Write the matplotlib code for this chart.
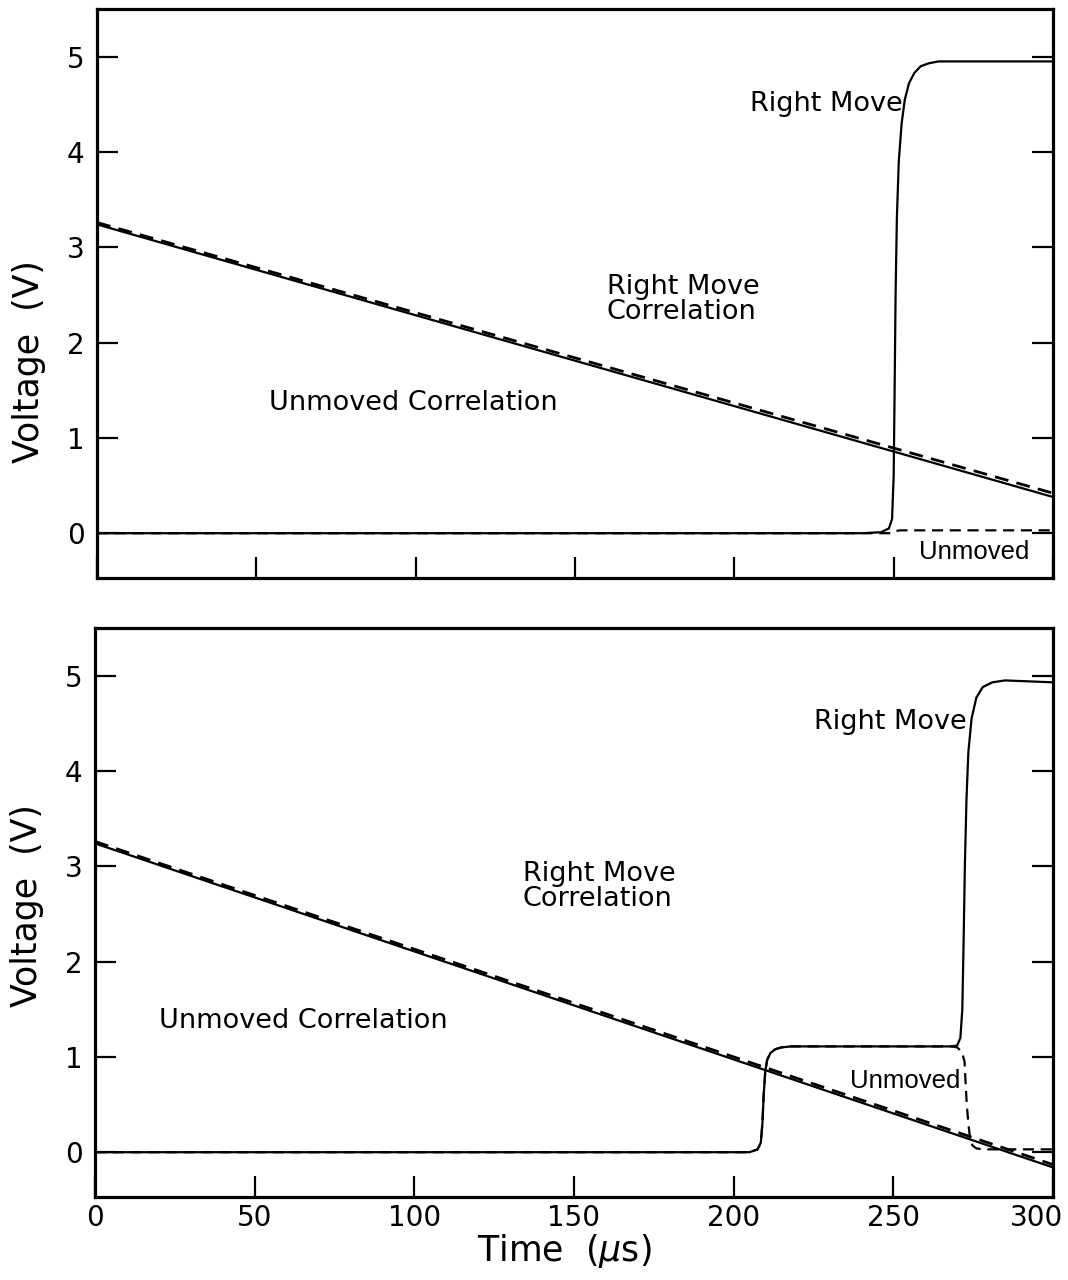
import matplotlib
matplotlib.use("Agg")
import matplotlib.pyplot as plt
from matplotlib.transforms import ScaledTranslation

# ---------------- data ----------------
# x ticks / y ticks
x_ticks = [0, 50, 100, 150, 200, 250, 300]
y_ticks = [0, 1, 2, 3, 4, 5]

# Top panel
top_corr_t = [0, 300]
top_corr_move_v = [3.24, 0.38]      # Right Move Correlation (solid)
top_corr_unmoved_v = [3.26, 0.42]   # Unmoved Correlation (dashed)

top_move_t = [0, 240, 246, 248.5, 249.5, 250.0, 250.3, 250.6, 251.0, 251.6,
              252.5, 253.5, 254.8, 256.5, 258.5, 261, 264, 268, 300]
top_move_v = [0, 0, 0.01, 0.05, 0.15, 0.6, 1.5, 2.5, 3.3, 3.9,
              4.3, 4.55, 4.72, 4.83, 4.9, 4.93, 4.95, 4.95, 4.95]

top_unmoved_t = [0, 249, 250, 252, 300]
top_unmoved_v = [0, 0, 0.02, 0.03, 0.03]

# Bottom panel
bot_corr_t = [0, 300]
bot_corr_move_v = [3.24, -0.16]
bot_corr_unmoved_v = [3.26, -0.13]

bot_move_t = [0, 200, 205, 207.5, 208.5, 209.0, 209.4, 209.9, 210.5, 211.5,
              213, 215, 218, 222, 230, 268, 270, 271, 271.6, 272.0,
              272.4, 272.9, 273.5, 274.5, 276, 278, 281, 285, 300]
bot_move_v = [0, 0, 0.0, 0.03, 0.1, 0.3, 0.6, 0.85, 0.97, 1.04,
              1.08, 1.10, 1.11, 1.11, 1.11, 1.11, 1.12, 1.2, 1.5, 2.2,
              3.0, 3.7, 4.2, 4.55, 4.77, 4.88, 4.93, 4.95, 4.93]

bot_unmoved_t = [0, 200, 205, 207.5, 208.5, 209.0, 209.4, 209.9, 210.5, 211.5,
                 213, 215, 218, 222, 230, 268, 270, 271.5, 272.3, 272.6,
                 273.0, 273.5, 274.0, 274.8, 276, 278, 281, 300]
bot_unmoved_v = [0, 0, 0.0, 0.03, 0.1, 0.3, 0.6, 0.85, 0.97, 1.04,
                 1.08, 1.10, 1.11, 1.11, 1.11, 1.11, 1.1, 1.05, 0.95, 0.75,
                 0.5, 0.3, 0.15, 0.07, 0.04, 0.03, 0.03, 0.03]

# ---------------- figure ----------------
W, H = 1068, 1280
fig = plt.figure(figsize=(W / 100, H / 100), dpi=100)
fig.patch.set_facecolor("white")

ax1 = fig.add_axes([97 / W, 1 - 578 / H, (1053 - 97) / W, (578 - 9) / H])
ax2 = fig.add_axes([95 / W, 1 - 1197 / H, (1053 - 95) / W, (1197 - 628) / H])

FONT = "DejaVu Sans"
lw = 1.6
dash = (0, (5, 3))

def style(ax, show_xlabels, ylabel_y):
    ax.set_xlim(0, 300)
    ax.set_ylim(-0.47, 5.5)
    ax.set_xticks(x_ticks)
    ax.set_yticks(y_ticks)
    ax.tick_params(axis="both", direction="in", length=15, width=1.6,
                   labelsize=20, right=True, top=False, colors="black")
    ax.tick_params(axis="y", pad=9)
    ax.tick_params(axis="x", pad=5, labelbottom=show_xlabels)
    for s in ax.spines.values():
        s.set_linewidth(2.3)
    for lab in ax.get_xticklabels() + ax.get_yticklabels():
        lab.set_family(FONT)
    ax.set_ylabel("Voltage  (V)", fontsize=25, family=FONT)
    ax.yaxis.set_label_coords(-0.053, ylabel_y)

# top panel
ax1.plot(top_corr_t, top_corr_move_v, color="black", lw=lw)
ax1.plot(top_corr_t, top_corr_unmoved_v, color="black", lw=lw + 0.4, linestyle=dash)
ax1.plot(top_move_t, top_move_v, color="black", lw=lw)
ax1.plot(top_unmoved_t, top_unmoved_v, color="black", lw=lw, linestyle=dash)
style(ax1, False, 0.38)
ax1.text(253, 4.5, "Right Move", fontsize=19.5, family=FONT, ha="right", va="center")
ax1.text(160, 2.45, "Right Move\nCorrelation", fontsize=19.5, family=FONT,
         ha="left", va="center", linespacing=0.95)
ax1.text(54, 1.37, "Unmoved Correlation", fontsize=19.5, family=FONT, ha="left", va="center")
ax1.text(258, -0.2, "Unmoved", fontsize=18.5, family="Liberation Sans", ha="left", va="center")

# bottom panel
ax2.plot(bot_corr_t, bot_corr_move_v, color="black", lw=lw)
ax2.plot(bot_corr_t, bot_corr_unmoved_v, color="black", lw=lw + 0.4, linestyle=dash)
ax2.plot(bot_move_t, bot_move_v, color="black", lw=lw)
ax2.plot(bot_unmoved_t, bot_unmoved_v, color="black", lw=lw, linestyle=dash)
style(ax2, True, 0.513)
ax2.text(273, 4.51, "Right Move", fontsize=19.5, family=FONT, ha="right", va="center")
ax2.text(134, 2.79, "Right Move\nCorrelation", fontsize=19.5, family=FONT,
         ha="left", va="center", linespacing=0.95)
ax2.text(20, 1.38, "Unmoved Correlation", fontsize=19.5, family=FONT, ha="left", va="center")
ax2.text(236.5, 0.75, "Unmoved", fontsize=18.5, family="Liberation Sans", ha="left", va="center")
ax2.set_xlabel("Time  ($\\mu$s)", fontsize=25, family=FONT)
ax2.xaxis.set_label_coords(0.49, -0.062)

# shift the last x tick label left so it stays inside the figure
last = ax2.get_xticklabels()[-1]
last.set_transform(last.get_transform() + ScaledTranslation(-16 / 100, 0, fig.dpi_scale_trans))

fig.savefig("out.png", dpi=100, facecolor="white")
